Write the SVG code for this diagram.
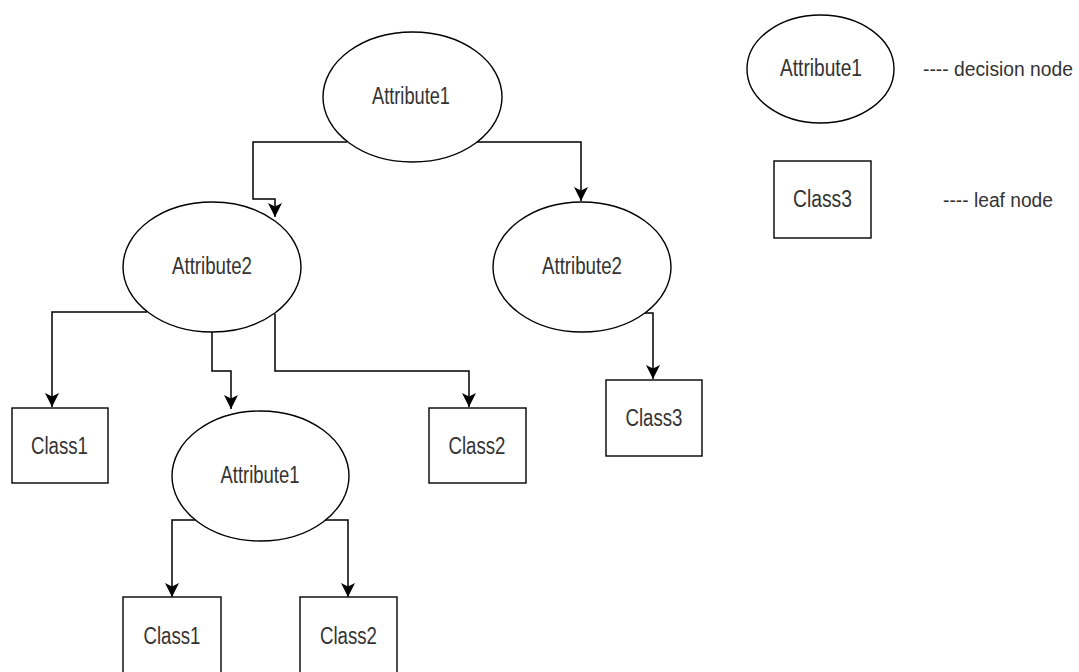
<svg xmlns="http://www.w3.org/2000/svg" width="1079" height="672" viewBox="0 0 1079 672">
<style>
.shape{fill:#fff;stroke:#000;stroke-width:1.4}
.lbl{font-family:"Liberation Sans",Arial,sans-serif;font-size:23px;fill:#333;text-anchor:middle}
.leg{font-family:"Liberation Sans",Arial,sans-serif;font-size:20px;fill:#333}
.edge{fill:none;stroke:#000;stroke-width:1.5}
</style>
<defs>
<marker id="arr" markerWidth="16" markerHeight="16" refX="14" refY="7.5" orient="auto" markerUnits="userSpaceOnUse">
<path d="M0,0.5 L14,7.5 L0,14.5 L3.5,7.5 z" fill="#000"/>
</marker>
</defs>
<rect width="1079" height="672" fill="#fff"/>
<g id="connectors">
<path class="edge" d="M347 142 H253 V199 H275 V217" marker-end="url(#arr)"/>
<path class="edge" d="M477 142 H581 V201" marker-end="url(#arr)"/>
<path class="edge" d="M147 312 H52 V407" marker-end="url(#arr)"/>
<path class="edge" d="M212 332 V371 H231 V409" marker-end="url(#arr)"/>
<path class="edge" d="M275 314 V371 H469 V407" marker-end="url(#arr)"/>
<path class="edge" d="M645 313 H653 V379" marker-end="url(#arr)"/>
<path class="edge" d="M195 520 H172 V597" marker-end="url(#arr)"/>
<path class="edge" d="M323 520 H348 V597" marker-end="url(#arr)"/>
</g>
<g id="root">
<ellipse class="shape" cx="412.5" cy="97" rx="89.5" ry="65"/>
<text class="lbl" x="411" y="104" textLength="78" lengthAdjust="spacingAndGlyphs">Attribute1</text>
</g>
<g id="attr2-left">
<ellipse class="shape" cx="212" cy="267" rx="89" ry="65"/>
<text class="lbl" x="212" y="274" textLength="80" lengthAdjust="spacingAndGlyphs">Attribute2</text>
</g>
<g id="attr2-right">
<ellipse class="shape" cx="582" cy="267" rx="89" ry="65"/>
<text class="lbl" x="582" y="274" textLength="80" lengthAdjust="spacingAndGlyphs">Attribute2</text>
</g>
<g id="attr1-mid">
<ellipse class="shape" cx="260.5" cy="476" rx="88.5" ry="65"/>
<text class="lbl" x="260" y="483" textLength="79" lengthAdjust="spacingAndGlyphs">Attribute1</text>
</g>
<g id="class1-left">
<rect class="shape" x="12" y="408" width="96" height="75"/>
<text class="lbl" x="59.5" y="454" textLength="57" lengthAdjust="spacingAndGlyphs">Class1</text>
</g>
<g id="class2-mid">
<rect class="shape" x="429" y="408" width="97" height="75"/>
<text class="lbl" x="477" y="454" textLength="57" lengthAdjust="spacingAndGlyphs">Class2</text>
</g>
<g id="class3">
<rect class="shape" x="606" y="380" width="96" height="76"/>
<text class="lbl" x="654" y="426" textLength="57" lengthAdjust="spacingAndGlyphs">Class3</text>
</g>
<g id="class1-bottom">
<rect class="shape" x="123" y="597" width="98" height="90"/>
<text class="lbl" x="172" y="644" textLength="57" lengthAdjust="spacingAndGlyphs">Class1</text>
</g>
<g id="class2-bottom">
<rect class="shape" x="300" y="597" width="97" height="90"/>
<text class="lbl" x="348.5" y="644" textLength="57" lengthAdjust="spacingAndGlyphs">Class2</text>
</g>
<g id="legend-decision">
<ellipse class="shape" cx="820.5" cy="69" rx="73.5" ry="54"/>
<text class="lbl" x="821" y="76" textLength="82" lengthAdjust="spacingAndGlyphs">Attribute1</text>
<text class="leg" x="923" y="76" textLength="150" lengthAdjust="spacingAndGlyphs">---- decision node</text>
</g>
<g id="legend-leaf">
<rect class="shape" x="774" y="161" width="97" height="77"/>
<text class="lbl" x="822.5" y="207" textLength="59" lengthAdjust="spacingAndGlyphs">Class3</text>
<text class="leg" x="943" y="207" textLength="110" lengthAdjust="spacingAndGlyphs">---- leaf node</text>
</g>
</svg>
